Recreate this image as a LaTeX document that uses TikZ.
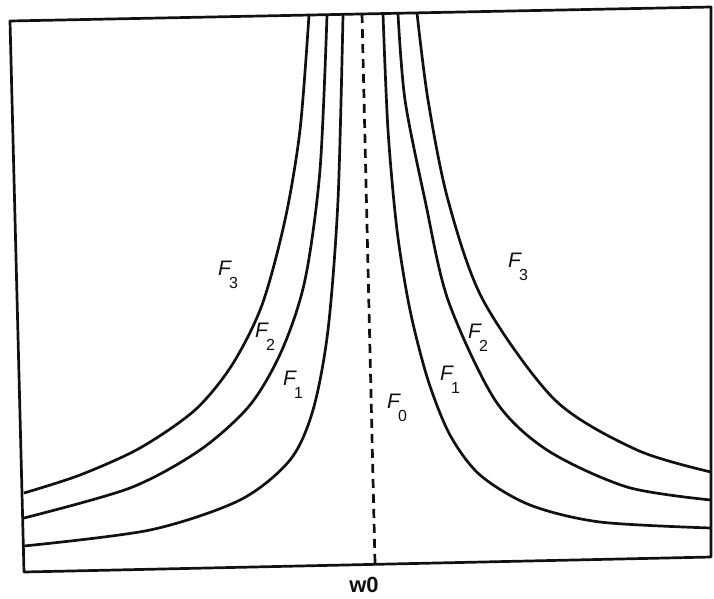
\documentclass[tikz,border=0pt]{standalone}
\usepackage{fontspec}
\setmainfont{Liberation Sans}
\definecolor{scanInk}{HTML}{111111}
\usepackage{tikz}
\newcommand{\flab}[1]{\textit{F}\kern-3pt\raisebox{-13pt}{\fontsize{16}{16}\selectfont #1}}
\tikzset{
	fcurve/.style={line width=2.7pt, scanInk, line join=round},
	flabel/.style={font=\fontsize{21}{21}\selectfont, anchor=base west, inner sep=0pt, text=scanInk}
}

\begin{document}
\begin{tikzpicture}[x=1pt, y=-1pt]
		\useasboundingbox (0,0) rectangle (714,598);
		\fill[white] (0,0) rectangle (714,598);
		\draw[line width=2.7pt, scanInk, line join=round] (10,21) -- (711,7) -- (711,557) -- (24,572) -- cycle;
		% left branch
		\draw[fcurve] plot[smooth] coordinates {(309,15) (300,130) (285,220) (262,305) (232,365) (195,410) (140,448) (80,475) (24,493)};
		\draw[fcurve] plot[smooth] coordinates {(327,15) (320,170) (305,280) (282,350) (250,405) (200,450) (130,488) (24,518)};
		\draw[fcurve] plot[smooth] coordinates {(343,15) (338,200) (328,330) (313,410) (290,460) (240,500) (150,530) (24,546)};
		% right branch
		\draw[fcurve] plot[smooth] coordinates {(383,14) (388,130) (397,230) (410,310) (428,380) (450,435) (480,475) (530,505) (600,522) (711,528)};
		\draw[fcurve] plot[smooth] coordinates {(398,14) (405,100) (425,200) (448,300) (495,400) (547,450) (627,487) (711,500)};
		\draw[fcurve] plot[smooth] coordinates {(417,13) (428,100) (448,200) (483,300) (555,400) (637,450) (711,472)};
		\draw[line width=2.7pt, scanInk, dash pattern=on 9pt off 6pt] (362,14) -- (375,563);
		\node[flabel] (f3l) at (218,275) {\flab{3}};
		\node[flabel] (f2l) at (255,337) {\flab{2}};
		\node[flabel] (f1l) at (283,385) {\flab{1}};
		\node[flabel] (f0) at (387,408) {\flab{0}};
		\node[flabel] (f1r) at (440,380) {\flab{1}};
		\node[flabel] (f2r) at (468,338) {\flab{2}};
		\node[flabel] (f3r) at (508,267) {\flab{3}};
		\node[font=\fontsize{22}{22}\selectfont\bfseries, anchor=base, inner sep=0pt, text=scanInk] (w0) at (364,592) {w0};
	\end{tikzpicture}
\end{document}
